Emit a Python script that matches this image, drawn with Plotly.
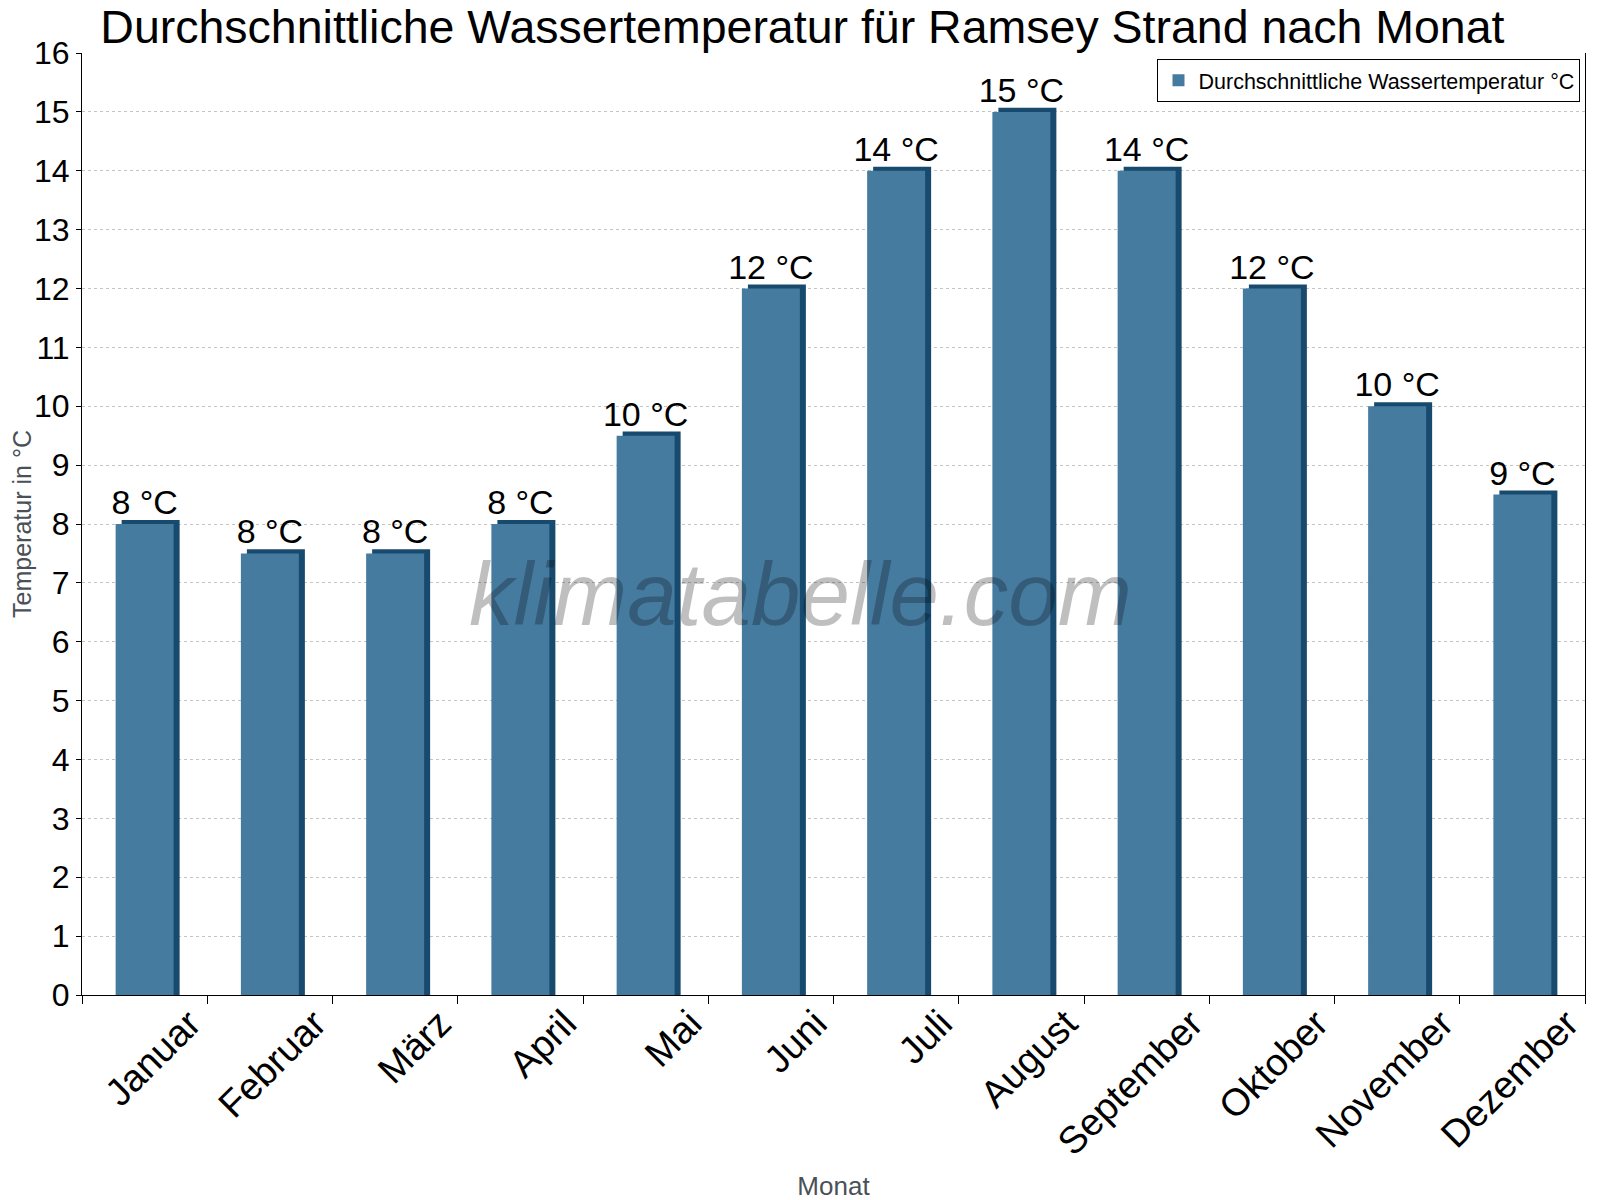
import plotly.graph_objects as go

# Monatliche Wassertemperatur Ramsey Strand
monate = ['Januar', 'Februar', 'März', 'April', 'Mai', 'Juni', 'Juli',
          'August', 'September', 'Oktober', 'November', 'Dezember']
temperatur = [8, 7.5, 7.5, 8, 9.5, 12, 14, 15, 14, 12, 10, 8.5]
beschriftung = ['8 °C', '8 °C', '8 °C', '8 °C', '10 °C', '12 °C', '14 °C',
                '15 °C', '14 °C', '12 °C', '10 °C', '9 °C']

front = '#467ba0'
dunkel = '#174a6d'
breite = 0.463
seite = 0.048   # Versatz der Seitenflaeche (Kategorie-Einheiten)
tiefe = 0.07    # Hoehe des Deckels (Grad)

fig = go.Figure()

# dunkle Seite/Deckel hinter der Vorderseite
fig.add_trace(go.Bar(
    x=monate,
    y=[t + tiefe for t in temperatur],
    width=breite,
    offset=-breite / 2 + seite,
    marker=dict(color=dunkel, line=dict(width=0)),
    showlegend=False,
    hoverinfo='skip',
))

# Vorderseite
fig.add_trace(go.Bar(
    x=monate,
    y=temperatur,
    width=breite,
    offset=-breite / 2,
    name='Durchschnittliche Wassertemperatur °C',
    marker=dict(color=front, line=dict(width=0)),
    text=beschriftung,
    textposition='outside',
    constraintext='none',
    textfont=dict(size=34, color='black', family='Liberation Sans'),
    cliponaxis=False,
))

fig.add_annotation(
    text='<i>klimatabelle.com</i>',
    xref='paper', yref='paper', x=0.478, y=0.426,
    showarrow=False,
    font=dict(size=89, color='rgba(0,0,0,0.25)', family='Liberation Sans'),
)

fig.update_layout(
    width=1600, height=1200,
    barmode='overlay',
    plot_bgcolor='white',
    paper_bgcolor='white',
    margin=dict(l=74, r=23, t=45, b=213),
    font=dict(family='Liberation Sans', color='black'),
    title=dict(
        text='Durchschnittliche Wassertemperatur für Ramsey Strand nach Monat',
        x=0.4965, xanchor='center', y=0.999, yanchor='top',
        pad=dict(t=1, b=0),
        font=dict(size=46.5, color='black'),
    ),
    legend=dict(
        x=0.997, y=0.994, xanchor='right', yanchor='top',
        bordercolor='black', borderwidth=1, bgcolor='white',
        font=dict(size=21.5, color='black'),
    ),
)

fig.update_xaxes(
    title=dict(text='Monat', font=dict(size=26, color='#4a5058'), standoff=14),
    tickangle=-45,
    tickfont=dict(size=38, color='black'),
    ticklabelshift=45,
    ticklabelstandoff=-10,
    showline=True, linecolor='black', linewidth=1,
    ticks='outside', tickson='boundaries', ticklen=8, tickcolor='black',
    showgrid=False,
    automargin=False,
)

fig.update_yaxes(
    title=dict(text='Temperatur in °C', font=dict(size=25, color='#4a5058'), standoff=2),
    range=[0, 16], dtick=1,
    tickfont=dict(size=32, color='black'),
    showline=True, linecolor='black', linewidth=1, mirror=True,
    ticks='outside', ticklen=5, tickcolor='black',
    showgrid=True, gridcolor='#c4c4c4', griddash='dot', gridwidth=1,
    zeroline=False,
    automargin=False,
)

fig.write_html('out.html')
